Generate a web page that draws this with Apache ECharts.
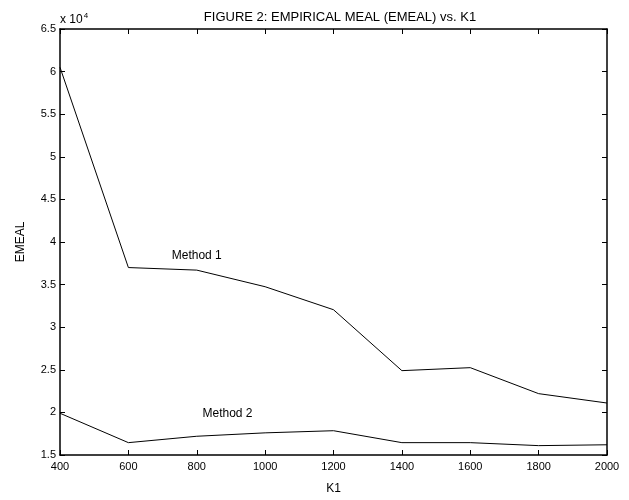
<!DOCTYPE html>
<html><head><meta charset="utf-8">
<script src="https://cdn.jsdelivr.net/npm/echarts@6/dist/echarts.min.js"></script>
<style>html,body{margin:0;padding:0;background:#fff}#c{width:629px;height:500px}</style>
</head><body><div id="c"></div>
<script>
var k1 = [400, 600, 800, 1000, 1200, 1400, 1600, 1800, 2000];
var method1 = [60500, 37000, 36700, 34750, 32050, 24900, 25250, 22200, 21100];
var method2 = [19900, 16450, 17200, 17600, 17850, 16450, 16450, 16100, 16200];
var labelMethod1 = {text: 'Method 1', x: 800, y: 38400};
var labelMethod2 = {text: 'Method 2', x: 890, y: 19800};
var titleText = 'FIGURE 2: EMPIRICAL MEAL (EMEAL) vs. K1';
var xName = 'K1', yName = 'EMEAL';

var FONT = 'Liberation Sans, Arial, Helvetica, sans-serif';
function pairs(ys){ return k1.map(function(x,i){return [x, ys[i]];}); }
var tickStyle = {show:true, inside:true, length:5, lineStyle:{color:'#000', width:1}};
var axLine = {show:true, onZero:false, lineStyle:{color:'#000', width:1.5}};
var chart = echarts.init(document.getElementById('c'), null, {renderer:'canvas'});
chart.setOption({
  animation:false,
  backgroundColor:'#fff',
  title:{text:titleText, left:335, top:6, textAlign:'center',
    textStyle:{fontFamily:FONT, fontSize:13, fontWeight:'normal', color:'#000'}},
  grid:{left:60, right:22, top:29, bottom:42, show:false},
  graphic:[{type:'text', left:60, top:12, style:{
    text:'{a|x 10}{b|4}', rich:{a:{fontFamily:FONT,fontSize:12,fill:'#000'}, b:{fontFamily:FONT,fontSize:8,fill:'#000', verticalAlign:'top', padding:[0,0,7,1]}}}}],
  xAxis:[{type:'value', min:400, max:2000, interval:200, position:'bottom',
      name:xName, nameLocation:'middle', nameGap:28,
      nameTextStyle:{fontFamily:FONT, fontSize:12, color:'#000'},
      axisLine:axLine, axisTick:tickStyle, splitLine:{show:false},
      axisLabel:{fontFamily:FONT, fontSize:11, color:'#000', margin:6,
        formatter:function(v){return String(v);}}},
    {type:'value', min:400, max:2000, interval:200, position:'top',
      axisLine:axLine, axisTick:tickStyle, splitLine:{show:false}, axisLabel:{show:false}}],
  yAxis:[{type:'value', min:15000, max:65000, interval:5000, position:'left',
      name:yName, nameLocation:'middle', nameGap:33, nameRotate:90,
      nameTextStyle:{fontFamily:FONT, fontSize:12, color:'#000'},
      axisLine:axLine, axisTick:tickStyle, splitLine:{show:false},
      axisLabel:{fontFamily:FONT, fontSize:11, color:'#000', margin:4,
        formatter:function(v){return String(Math.round(v/1000)/10);}}},
    {type:'value', min:15000, max:65000, interval:5000, position:'right',
      axisLine:axLine, axisTick:tickStyle, splitLine:{show:false}, axisLabel:{show:false}}],
  series:[
    {type:'line', data:pairs(method1), symbol:'none', lineStyle:{color:'#000', width:1},
      markPoint:{symbol:'rect', symbolSize:1, itemStyle:{color:'rgba(0,0,0,0)'},
        label:{show:true, position:'inside', formatter:labelMethod1.text, fontFamily:FONT, fontSize:12, color:'#000'},
        data:[{coord:[labelMethod1.x, labelMethod1.y]}]}},
    {type:'line', data:pairs(method2), symbol:'none', lineStyle:{color:'#000', width:1},
      markPoint:{symbol:'rect', symbolSize:1, itemStyle:{color:'rgba(0,0,0,0)'},
        label:{show:true, position:'inside', formatter:labelMethod2.text, fontFamily:FONT, fontSize:12, color:'#000'},
        data:[{coord:[labelMethod2.x, labelMethod2.y]}]}}
  ]
});
</script></body></html>
